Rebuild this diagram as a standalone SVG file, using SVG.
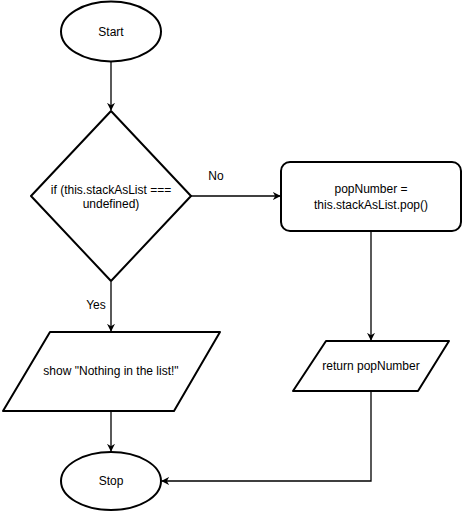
<svg xmlns="http://www.w3.org/2000/svg" width="462" height="512" viewBox="0 0 462 512">
<defs>
<marker id="arr" viewBox="0 0 10 10" refX="9" refY="5" markerWidth="8" markerHeight="8" markerUnits="userSpaceOnUse" orient="auto">
<path d="M0,0 L10,5 L0,10 L3,5 Z" fill="#000"/>
</marker>
<style>
.s{fill:#fff;stroke:#000;stroke-width:2;stroke-linejoin:round}
.t{font-family:"Liberation Sans",Arial,sans-serif;font-size:12px;fill:#000;text-anchor:middle}
.c{fill:none;stroke:#000;stroke-width:1.3}
</style>
</defs>
<rect width="462" height="512" fill="#fff"/>
<g id="connectors">
<path class="c" d="M111,62 V110" marker-end="url(#arr)"/>
<path class="c" d="M191,196 H280" marker-end="url(#arr)"/>
<path class="c" d="M111,282 V331" marker-end="url(#arr)"/>
<path class="c" d="M371,231 V340" marker-end="url(#arr)"/>
<path class="c" d="M111,411 V451" marker-end="url(#arr)"/>
<path class="c" d="M371,391 V481 H162" marker-end="url(#arr)"/>
<text class="t" x="216" y="180">No</text>
<text class="t" x="96" y="309">Yes</text>
</g>
<g id="start">
<ellipse class="s" cx="111" cy="31.5" rx="50" ry="30"/>
<text class="t" x="111" y="35.5">Start</text>
</g>
<g id="decision">
<path class="s" d="M111,111 L191,196 L111,281 L31,196 Z"/>
<text class="t" x="111" y="194">if (this.stackAsList ===</text>
<text class="t" x="111" y="208">undefined)</text>
</g>
<g id="pop">
<rect class="s" x="281" y="162" width="180" height="69" rx="9"/>
<text class="t" x="371" y="193">popNumber =</text>
<text class="t" x="371" y="209">this.stackAsList.pop()</text>
</g>
<g id="return">
<path class="s" d="M326,341 L449,341 L418,391 L293,391 Z"/>
<text class="t" x="371" y="370">return popNumber</text>
</g>
<g id="show">
<path class="s" d="M50,332 L220,332 L174,411 L3,411 Z"/>
<text class="t" x="111" y="375">show "Nothing in the list!"</text>
</g>
<g id="stop">
<ellipse class="s" cx="111" cy="481" rx="50" ry="29"/>
<text class="t" x="111" y="485">Stop</text>
</g>
</svg>
